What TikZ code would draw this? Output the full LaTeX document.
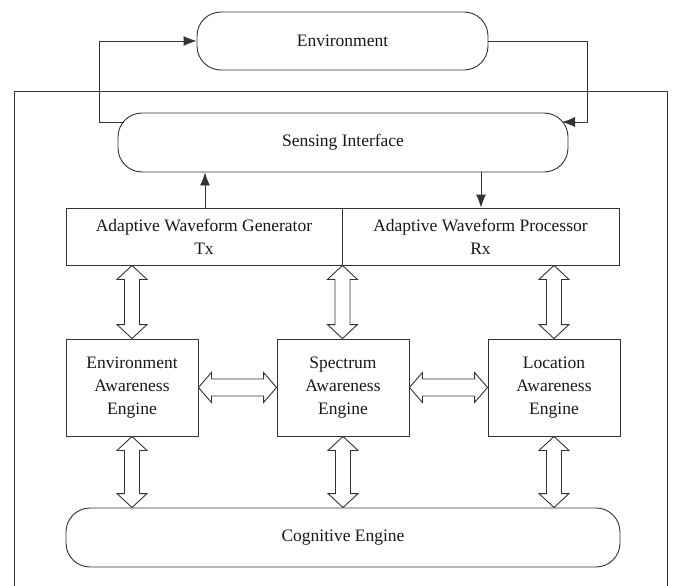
\documentclass[tikz,border=0pt]{standalone}
\usepackage{fontspec}
\setmainfont{Liberation Serif}
\usetikzlibrary{arrows.meta,calc}
\tikzset{
  line/.style={draw=black!80, line width=0.9pt},
  txt/.style={font=\fontsize{17.5}{23}\selectfont, align=center, text=black!90},
  pill/.style={line, txt, rounded corners=24pt, minimum height=58pt, inner sep=0pt},
  box/.style={line, txt, inner sep=0pt},
  blk/.style={line, fill=white, line join=miter},
  arr/.style={line, -{Latex[length=13pt,width=10pt]}},
}
% vertical hollow double arrow from #1 (top) to #2 (bottom)
\newcommand{\vdbl}[2]{%
  \draw[blk] let \p1=#1, \p2=#2 in
    (\x1,\y1) -- (\x1+15pt,\y1-14pt) -- (\x1+7.5pt,\y1-14pt) -- (\x1+7.5pt,\y2+14pt)
    -- (\x1+15pt,\y2+14pt) -- (\x1,\y2) -- (\x1-15pt,\y2+14pt) -- (\x1-7.5pt,\y2+14pt)
    -- (\x1-7.5pt,\y1-14pt) -- (\x1-15pt,\y1-14pt) -- cycle;}
% horizontal hollow double arrow from #1 (left) to #2 (right)
\newcommand{\hdbl}[2]{%
  \draw[blk] let \p1=#1, \p2=#2 in
    (\x1,\y1) -- (\x1+13pt,\y1+15pt) -- (\x1+13pt,\y1+8.5pt) -- (\x2-13pt,\y1+8.5pt)
    -- (\x2-13pt,\y1+15pt) -- (\x2,\y1) -- (\x2-13pt,\y1-15pt) -- (\x2-13pt,\y1-8.5pt)
    -- (\x1+13pt,\y1-8.5pt) -- (\x1+13pt,\y1-15pt) -- cycle;}
\begin{document}
\begin{tikzpicture}[x=1pt,y=-1pt]
\useasboundingbox (0,0) rectangle (673,586);
\fill[white] (0,0) rectangle (673,586);
% outer frame (open at the bottom)
\draw[line] (14,586) -- (14,91) -- (667,91) -- (667,586);

\node[pill, minimum width=291pt] (env) at (342.5,41) {Environment};
\node[pill, minimum width=450pt, minimum height=59pt] (si) at (343,142.5) {Sensing Interface};

\node[box, minimum width=276pt, minimum height=57pt] (wg) at (204,236.5)
  {\fontsize{17.5}{21}\selectfont Adaptive Waveform Generator\\Tx};
\node[box, minimum width=277pt, minimum height=57pt] (wp) at (480.5,236.5)
  {\fontsize{17.5}{21}\selectfont Adaptive Waveform Processor\\Rx};

\node[box, minimum width=132pt, minimum height=97pt] (ea) at (132,387.5) {Environment\\Awareness\\Engine};
\node[box, minimum width=132pt, minimum height=97pt] (sa) at (343,387.5) {Spectrum\\Awareness\\Engine};
\node[box, minimum width=132pt, minimum height=97pt] (la) at (554,387.5) {Location\\Awareness\\Engine};

\node[pill, minimum width=554pt, minimum height=59pt] (ce) at (343,537.5) {Cognitive Engine};

% loops between environment and sensing interface
\coordinate (siL) at (124,122);
\coordinate (siR) at (562,122);
\coordinate (loopL) at (99,122);
\coordinate (loopR) at (587,122);
\draw[arr] (siL) -- (loopL) |- (env.west);
\draw[arr] (env.east) -| (loopR) -- (siR);

% tx / rx arrows
\coordinate (txx) at (205,0);
\coordinate (rxx) at (481,0);
\draw[arr] (wg.north -| txx) -- (si.south -| txx);
\draw[arr] (si.south -| rxx) -- (wp.north -| rxx);

% hollow double arrows
\vdbl{(wg.south -| ea)}{(ea.north)}
\vdbl{(wg.south east)}{(sa.north)}
\vdbl{(wp.south -| la)}{(la.north)}
\hdbl{(ea.east)}{(sa.west)}
\hdbl{(sa.east)}{(la.west)}
\vdbl{(ea.south)}{(ce.north -| ea)}
\vdbl{(sa.south)}{(ce.north -| sa)}
\vdbl{(la.south)}{(ce.north -| la)}
\end{tikzpicture}
\end{document}
